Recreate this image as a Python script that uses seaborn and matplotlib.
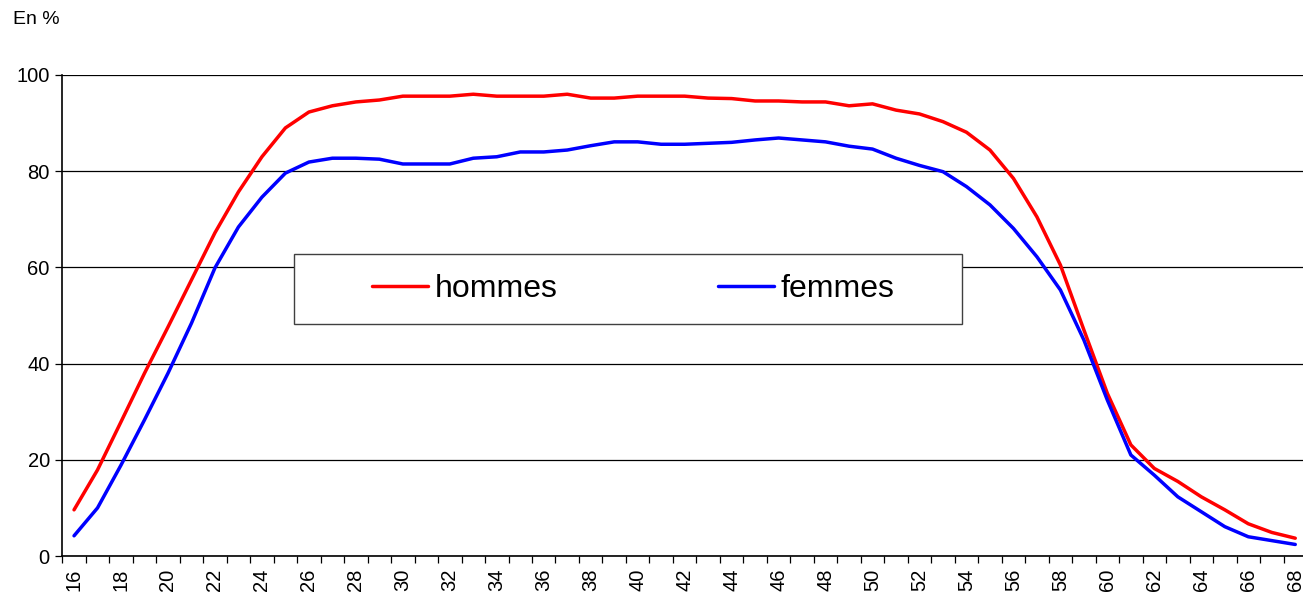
import matplotlib
matplotlib.use("Agg")
import matplotlib.pyplot as plt
from matplotlib.patches import Rectangle
import seaborn as sns
import pandas as pd
import numpy as np

ages = list(range(16, 69))
hommes = [9.6, 17.9, 27.9, 38.0, 47.6, 57.4, 67.2, 75.7, 83.0, 89.0, 92.3, 93.6, 94.4,
          94.8, 95.6, 95.6, 95.6, 96.0, 95.6, 95.6, 95.6, 96.0, 95.2, 95.2, 95.6, 95.6, 95.6,
          95.2, 95.1, 94.6, 94.6, 94.4, 94.4, 93.6, 94.0, 92.7, 91.9,
          90.3, 88.1, 84.4, 78.5, 70.5, 60.5, 47.0, 33.8, 23.1, 18.2, 15.5, 12.3, 9.6, 6.7, 4.9, 3.7]
femmes = [4.2, 10.0, 18.9, 28.3, 38.0, 48.4, 59.9, 68.4, 74.6, 79.6, 81.9, 82.7, 82.7,
          82.5, 81.5, 81.5, 81.5, 82.7, 83.0, 84.0, 84.0, 84.4, 85.3, 86.1, 86.1, 85.6, 85.6,
          85.8, 86.0, 86.5, 86.9, 86.5, 86.1, 85.2, 84.6, 82.7, 81.2,
          79.9, 76.8, 73.0, 68.1, 62.2, 55.3, 44.9, 32.4, 21.0, 16.8, 12.3, 9.2, 6.1, 4.0, 3.2, 2.4]
series = ["hommes", "femmes"]
colors = ["#FF0000", "#0000FF"]
yticks = [0, 20, 40, 60, 80, 100]

df = pd.DataFrame({
    "age": ages * 2,
    "taux": hommes + femmes,
    "sexe": [series[0]] * len(ages) + [series[1]] * len(ages),
})

sns.set_style("white")
plt.rcParams["font.family"] = ["Liberation Sans", "DejaVu Sans"]
plt.rcParams["text.color"] = "black"
plt.rcParams["xtick.color"] = "black"
plt.rcParams["ytick.color"] = "black"
plt.rcParams["axes.labelcolor"] = "black"

fig = plt.figure(figsize=(13.03, 5.99), dpi=100)
ax = fig.add_axes([62.3 / 1303, 1 - 556 / 599, (1307 - 62.3) / 1303, (556 - 75) / 599])

sns.lineplot(data=df, x="age", y="taux", hue="sexe", palette=colors, hue_order=series,
             linewidth=2.5, ax=ax, legend=False, zorder=3)

ax.set_xlim(ages[0] - 0.5, ages[-1] + 0.5)
ax.set_ylim(0, 100)
ax.set_xlabel("")
ax.set_ylabel("")

ax.set_yticks(yticks)
ax.set_yticklabels([str(v) for v in yticks])
ax.yaxis.grid(True, color="black", linewidth=0.9)
ax.set_axisbelow(True)
ax.tick_params(axis="y", direction="out", length=5, width=0.9, colors="black",
               labelsize=14.5, pad=4, left=True)

ax.set_xticks(ages[::2])
ax.set_xticklabels([str(a) for a in ages[::2]], rotation=90)
ax.set_xticks(np.arange(ages[0] - 0.5, ages[-1] + 1.0, 1.0), minor=True)
ax.tick_params(axis="x", which="major", length=0, labelsize=14.5, pad=9, colors="black")
ax.tick_params(axis="x", which="minor", direction="out", length=5, width=0.9,
               color="black", bottom=True)

for s in ["top", "right"]:
    ax.spines[s].set_visible(False)
for s in ["left", "bottom"]:
    ax.spines[s].set_color("black")
    ax.spines[s].set_linewidth(1.2)

# legend box
rect = Rectangle((294 / 1303, 1 - 324 / 599), (962 - 294) / 1303, (324 - 254) / 599,
                 transform=fig.transFigure, facecolor="white", edgecolor="#404040",
                 linewidth=1.0, zorder=4, clip_on=False)
ax.add_patch(rect)
handles = [plt.Line2D([], [], color=c, linewidth=2.5) for c in colors]
leg = ax.legend(handles, series, loc="center left",
                bbox_to_anchor=(372 / 1303, 1 - 289 / 599),
                bbox_transform=fig.transFigure, ncol=2, frameon=False,
                fontsize=23, handlelength=1.75, handletextpad=0.2, columnspacing=5.05,
                borderpad=0, borderaxespad=0, labelcolor="black")
leg.set_zorder(5)

fig.text(13 / 1303, 1 - 20 / 599, "En %", fontsize=14, va="center", ha="left", color="black")

fig.savefig("out.png", dpi=100)
